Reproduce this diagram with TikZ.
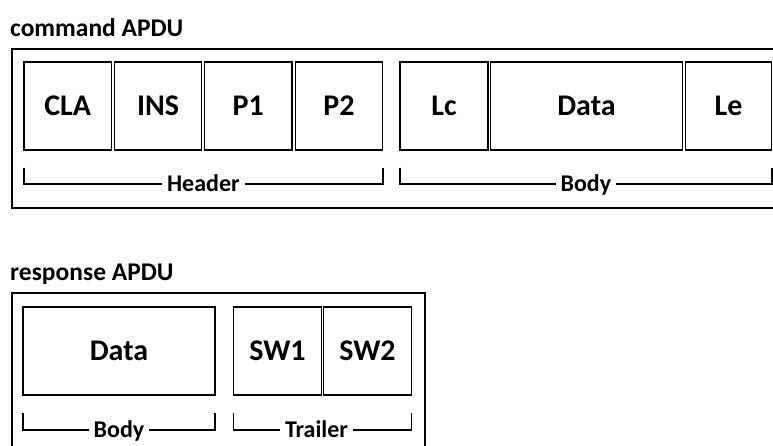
\documentclass[tikz,border=0pt]{standalone}
\usepackage{fontspec}
\setmainfont{Carlito}
\usetikzlibrary{calc}
\begin{document}
\begin{tikzpicture}[x=1pt,y=1pt,
  field/.style={draw, line width=1.3pt, inner sep=0pt, outer sep=0pt,
    minimum height=88pt, font=\bfseries\fontsize{30}{30}\selectfont},
  frame/.style={draw, line width=2pt},
  brace/.style={draw, line width=1.5pt},
  bracelabel/.style={fill=white, anchor=base, inner xsep=5pt, inner ysep=1pt,
    yshift=-7.5pt, font=\bfseries\fontsize{24}{24}\selectfont},
  title/.style={anchor=base west, inner sep=0pt,
    font=\bfseries\fontsize{25.5}{25.5}\selectfont}]
\useasboundingbox (0,0) rectangle (773,445);

% command APDU
\node[title] (ctitle) at (10,408) {command APDU};
\draw[frame] (11.5,237) rectangle (800,396);
\node[field, minimum width=87.5pt] (cla) at (67.75,339) {CLA};
\node[field, minimum width=87.5pt] (ins) at (158,339) {INS};
\node[field, minimum width=87.5pt] (p1) at (248.25,339) {P1};
\node[field, minimum width=87.5pt] (p2) at (339,339) {P2};
\node[field, minimum width=88pt] (lc) at (444,339) {Lc};
\node[field, minimum width=192.5pt] (cdata) at (586.5,339) {Data};
\node[field, minimum width=86.5pt] (le) at (728.5,339) {Le};

\coordinate (hl) at ([yshift=-18pt]cla.south west);
\coordinate (hr) at ([yshift=-18pt]p2.south east);
\draw[brace] (hl) -- ++(0,-16) -| (hr);
\node[bracelabel] (header) at ($(hl)!0.5!(hr)+(0,-16)$) {Header};

\coordinate (bl) at ([yshift=-18pt]lc.south west);
\coordinate (br) at ([yshift=-18pt]le.south east);
\draw[brace] (bl) -- ++(0,-16) -| (br);
\node[bracelabel] (cbody) at ($(bl)!0.5!(br)+(0,-16)$) {Body};

% response APDU
\node[title] (rtitle) at (10,165) {response APDU};
\draw[frame] (12,-20) rectangle (425,152);
\node[field, minimum width=192pt] (rdata) at (119,94) {Data};
\node[field, minimum width=88pt] (sw1) at (277.5,94) {SW1};
\node[field, minimum width=88pt] (sw2) at (367.5,94) {SW2};

\coordinate (rbl) at ([yshift=-18pt]rdata.south west);
\coordinate (rbr) at ([yshift=-18pt]rdata.south east);
\draw[brace] (rbl) -- ++(0,-17) -| (rbr);
\node[bracelabel] (rbody) at ($(rbl)!0.5!(rbr)+(0,-17)$) {Body};

\coordinate (tl) at ([yshift=-18pt]sw1.south west);
\coordinate (tr) at ([yshift=-18pt]sw2.south east);
\draw[brace] (tl) -- ++(0,-17) -| (tr);
\node[bracelabel, xshift=-6pt] (trailer) at ($(tl)!0.5!(tr)+(0,-17)$) {Trailer};
\end{tikzpicture}
\end{document}
